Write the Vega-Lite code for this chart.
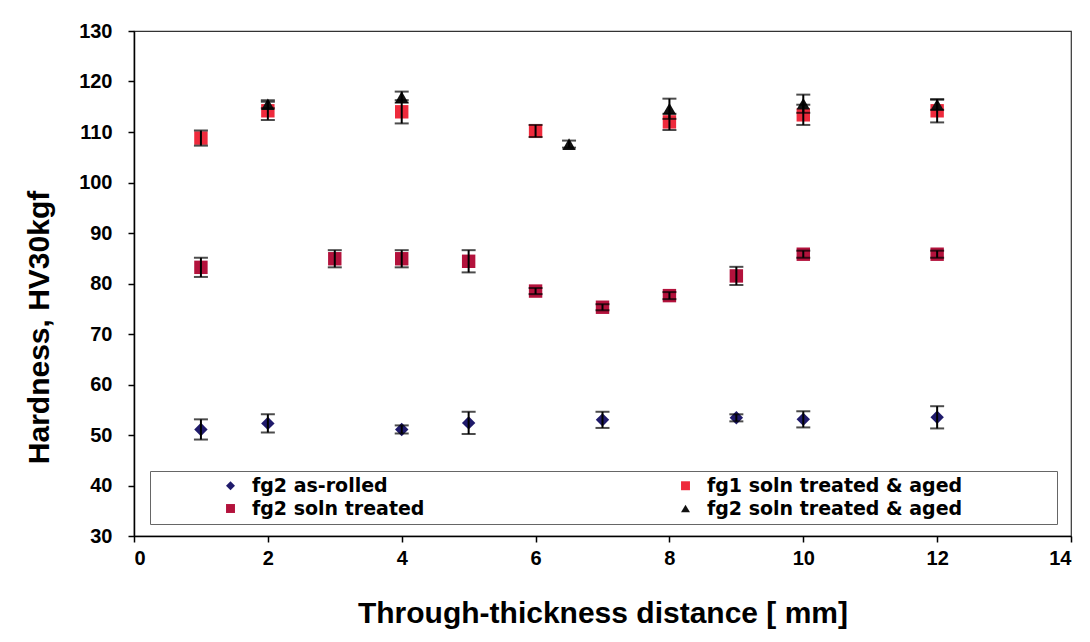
{
  "$schema": "https://vega.github.io/schema/vega-lite/v6.json",
  "autosize": {"type": "none"},
  "width": 937,
  "height": 505,
  "padding": {"left": 134, "top": 31, "right": 19, "bottom": 106},
  "background": "white",
  "config": {
    "view": {"stroke": "#333", "strokeWidth": 1.2},
    "axis": {
      "grid": false,
      "domainColor": "black",
      "domainWidth": 1.5,
      "tickColor": "black",
      "tickWidth": 1.5,
      "tickSize": 6,
      "labelFont": "Liberation Sans",
      "labelFontSize": 20,
      "labelFontWeight": "bold",
      "labelColor": "black",
      "titleFont": "Liberation Sans",
      "titleFontSize": 30,
      "titleFontWeight": "bold",
      "titleColor": "black"
    },
    "legend": {
      "orient": "none",
      "legendX": 16,
      "legendY": 440,
      "columns": 2,
      "columnPadding": 185,
      "rowPadding": 3,
      "padding": 5,
      "strokeColor": "#666",
      "fillColor": "white",
      "labelFont": "DejaVu Sans",
      "labelFontSize": 19,
      "labelFontWeight": "bold",
      "labelColor": "black",
      "labelLimit": 500,
      "symbolSize": 80,
      "symbolStrokeWidth": 0,
      "symbolOffset": 66,
      "labelOffset": 12,
      "titleOrient": "right",
      "titlePadding": 90,
      "titleFontSize": 19
    }
  },
  "data": {
    "values": [
      {"series": "fg2 as-rolled", "x": 1, "y": 51.1, "lo": 49.1, "hi": 53.1},
      {"series": "fg2 as-rolled", "x": 2, "y": 52.3, "lo": 50.5, "hi": 54.1},
      {"series": "fg2 as-rolled", "x": 4, "y": 51.1, "lo": 50.3, "hi": 51.9},
      {"series": "fg2 as-rolled", "x": 5, "y": 52.4, "lo": 50.2, "hi": 54.6},
      {"series": "fg2 as-rolled", "x": 7, "y": 53.0, "lo": 51.4, "hi": 54.6},
      {"series": "fg2 as-rolled", "x": 9, "y": 53.4, "lo": 52.7, "hi": 54.1},
      {"series": "fg2 as-rolled", "x": 10, "y": 53.1, "lo": 51.5, "hi": 54.7},
      {"series": "fg2 as-rolled", "x": 12, "y": 53.5, "lo": 51.3, "hi": 55.7},
      {"series": "fg2 soln treated", "x": 1, "y": 83.2, "lo": 81.3, "hi": 85.1},
      {"series": "fg2 soln treated", "x": 3, "y": 84.9, "lo": 83.2, "hi": 86.6},
      {"series": "fg2 soln treated", "x": 4, "y": 84.9, "lo": 83.2, "hi": 86.6},
      {"series": "fg2 soln treated", "x": 5, "y": 84.4, "lo": 82.2, "hi": 86.6},
      {"series": "fg2 soln treated", "x": 6, "y": 78.5, "lo": 77.9, "hi": 79.1},
      {"series": "fg2 soln treated", "x": 7, "y": 75.3, "lo": 74.7, "hi": 75.9},
      {"series": "fg2 soln treated", "x": 8, "y": 77.6, "lo": 76.9, "hi": 78.3},
      {"series": "fg2 soln treated", "x": 9, "y": 81.5, "lo": 79.7, "hi": 83.3},
      {"series": "fg2 soln treated", "x": 10, "y": 85.8, "lo": 85.1, "hi": 86.5},
      {"series": "fg2 soln treated", "x": 12, "y": 85.8, "lo": 85.1, "hi": 86.5},
      {"series": "fg1 soln treated & aged", "x": 1, "y": 108.8, "lo": 107.3, "hi": 110.3},
      {"series": "fg1 soln treated & aged", "x": 2, "y": 114.2, "lo": 112.4, "hi": 116.0},
      {"series": "fg1 soln treated & aged", "x": 4, "y": 114.0, "lo": 111.7, "hi": 116.3},
      {"series": "fg1 soln treated & aged", "x": 6, "y": 110.2, "lo": 109.0, "hi": 111.4},
      {"series": "fg1 soln treated & aged", "x": 8, "y": 112.0, "lo": 110.4, "hi": 113.6},
      {"series": "fg1 soln treated & aged", "x": 10, "y": 113.4, "lo": 111.4, "hi": 115.4},
      {"series": "fg1 soln treated & aged", "x": 12, "y": 114.2, "lo": 111.9, "hi": 116.5},
      {"series": "fg2 soln treated & aged", "x": 2, "y": 115.5, "lo": 114.7, "hi": 116.3},
      {"series": "fg2 soln treated & aged", "x": 4, "y": 116.9, "lo": 115.8, "hi": 118.0},
      {"series": "fg2 soln treated & aged", "x": 6.5, "y": 107.6, "lo": 106.9, "hi": 108.3},
      {"series": "fg2 soln treated & aged", "x": 8, "y": 114.6, "lo": 112.6, "hi": 116.6},
      {"series": "fg2 soln treated & aged", "x": 10, "y": 115.6, "lo": 113.8, "hi": 117.4},
      {"series": "fg2 soln treated & aged", "x": 12, "y": 115.4, "lo": 114.4, "hi": 116.4}
    ]
  },
  "layer": [
    {
      "mark": {"type": "point", "filled": true, "opacity": 1, "size": 180},
      "encoding": {
        "x": {"field": "x", "type": "quantitative", "scale": {"domain": [0, 14], "nice": false, "zero": false},
              "axis": {"values": [0, 2, 4, 6, 8, 10, 12, 14], "format": "d", "title": "Through-thickness distance [ mm]", "labelPadding": 6, "titlePadding": 30}},
        "y": {"field": "y", "type": "quantitative", "scale": {"domain": [30, 130], "nice": false, "zero": false},
              "axis": {"values": [30, 40, 50, 60, 70, 80, 90, 100, 110, 120, 130], "title": "Hardness, HV30kgf", "labelPadding": 16, "titlePadding": 24, "titleY": 296}},
        "color": {"field": "series", "type": "nominal", "title": " ",
                  "scale": {"domain": ["fg2 as-rolled", "fg2 soln treated", "fg1 soln treated & aged", "fg2 soln treated & aged"],
                            "range": ["#1f1a6b", "#b3123c", "#ee2a3c", "#111111"]}},
        "shape": {"field": "series", "type": "nominal", "title": " ",
                  "scale": {"domain": ["fg2 as-rolled", "fg2 soln treated", "fg1 soln treated & aged", "fg2 soln treated & aged"],
                            "range": ["diamond", "square", "square", "triangle-up"]}}
      }
    },
    {
      "mark": {"type": "rule", "color": "black", "strokeWidth": 2},
      "encoding": {
        "x": {"field": "x", "type": "quantitative"},
        "y": {"field": "lo", "type": "quantitative", "title": "Hardness, HV30kgf"},
        "y2": {"field": "hi"}
      }
    },
    {
      "mark": {"type": "tick", "color": "black", "thickness": 2, "size": 14, "orient": "horizontal"},
      "encoding": {
        "x": {"field": "x", "type": "quantitative"},
        "y": {"field": "lo", "type": "quantitative", "title": "Hardness, HV30kgf"}
      }
    },
    {
      "mark": {"type": "tick", "color": "black", "thickness": 2, "size": 14, "orient": "horizontal"},
      "encoding": {
        "x": {"field": "x", "type": "quantitative"},
        "y": {"field": "hi", "type": "quantitative", "title": "Hardness, HV30kgf"}
      }
    }
  ]
}
